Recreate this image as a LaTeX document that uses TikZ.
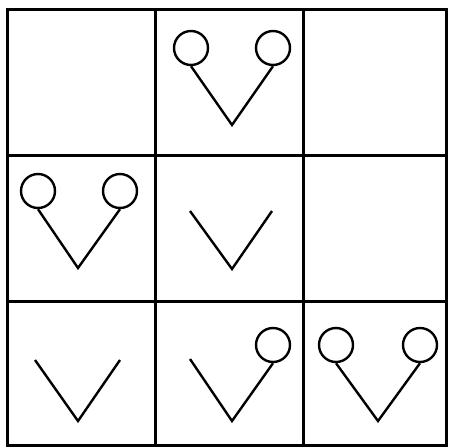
\documentclass[tikz,border=0pt]{standalone}
\begin{document}
\begin{tikzpicture}[x=1pt,y=-1pt,
  grid/.style={line width=3pt},
  vline/.style={line width=2.4pt,line join=miter},
  ball/.style={circle,draw,line width=2.4pt,minimum size=34pt,inner sep=0pt}]
\useasboundingbox (0,0) rectangle (449,447);
% grid
\draw[grid] (7,9) rectangle (446,445);
\draw[grid] (155,9) -- (155,445);
\draw[grid] (303,9) -- (303,445);
\draw[grid] (7,155) -- (446,155);
\draw[grid] (7,301) -- (446,301);
% top middle
\node[ball] (a1) at (191,48) {};
\node[ball] (a2) at (273,48) {};
\coordinate (av) at (232,125);
\draw[vline] (a1.south) -- (av) -- (a2.south);
% middle left
\node[ball] (b1) at (38,191) {};
\node[ball] (b2) at (120,191) {};
\coordinate (bv) at (78,268);
\draw[vline] (b1.south) -- (bv) -- (b2.south);
% middle middle
\coordinate (c1) at (190,211);
\coordinate (cv) at (232,269);
\coordinate (c2) at (272,211);
\draw[vline] (c1) -- (cv) -- (c2);
% bottom left
\coordinate (d1) at (35,360);
\coordinate (dv) at (78,421);
\coordinate (d2) at (120,360);
\draw[vline] (d1) -- (dv) -- (d2);
% bottom middle
\coordinate (e1) at (190,359);
\coordinate (ev) at (232,421);
\node[ball] (e2) at (273,345) {};
\draw[vline] (e1) -- (ev) -- (e2.south);
% bottom right
\node[ball] (f1) at (336,345) {};
\node[ball] (f2) at (420,345) {};
\coordinate (fv) at (378,421);
\draw[vline] (f1.south) -- (fv) -- (f2.south);
\end{tikzpicture}
\end{document}
